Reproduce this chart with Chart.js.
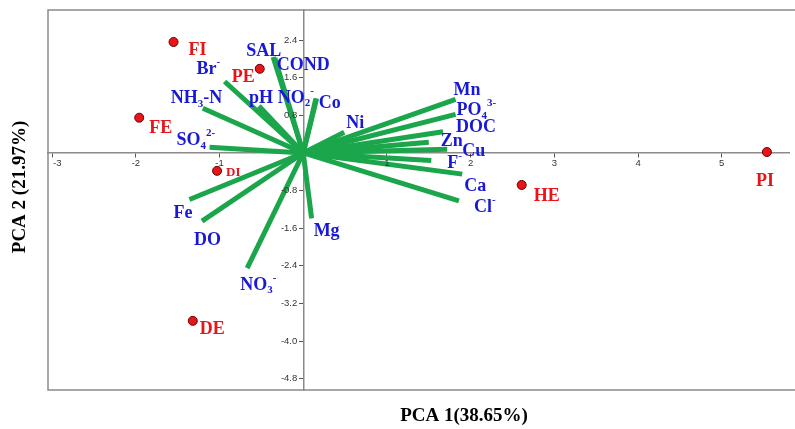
<!DOCTYPE html>
<html><head><meta charset="utf-8">
<script src="https://cdn.jsdelivr.net/npm/chart.js@4.4.1/dist/chart.umd.min.js"></script>
<style>html,body{margin:0;padding:0;background:#fff}#wrap{width:795px;height:429px}</style>
</head><body><div id="wrap"><canvas id="c" width="795" height="429"></canvas></div>
<script>
// ---- data ----
const sampleNames = ['FI','PE','FE','DI','DE','HE','PI'];
const sampleX = [-1.55,-0.52,-1.96,-1.03,-1.32,2.61,5.54];
const sampleY = [2.36,1.79,0.75,-0.38,-3.57,-0.68,0.02];

const varNames = ['SAL','COND','Br{^-}','NH{_3}-N','pH','NO{_2}{^-}','Co','Ni','SO{_4}{^2-}','Mn','PO{_4}{^3-}','DOC','Zn','Cu','F{^-}','Ca','Cl{^-}','Mg','Fe','DO','NO{_3}{^-}'];
const varX = [-0.36,-0.34,-0.94,-1.20,-0.53,0.15,0.16,0.49,-1.12,1.82,1.82,1.67,1.50,1.72,1.53,1.90,1.86,0.10,-1.36,-1.21,-0.67];
const varY = [2.04,2.02,1.52,0.95,1.00,1.15,1.16,0.44,0.12,1.14,0.82,0.45,0.23,0.08,-0.16,-0.45,-1.02,-1.39,-0.99,-1.45,-2.45];

const xTicks = [-3,-2,-1,1,2,3,4,5];
const yTicks = [2.4,1.6,0.8,-0.8,-1.6,-2.4,-3.2,-4.0,-4.8];
const xTitle = 'PCA 1(38.65%)';
const yTitle = 'PCA 2 (21.97%)';

// ---- layout / style (label offsets in px from their mark) ----
const varOffsets = [[-27,-6],[2,7.5],[-28,-12],[-32,-10],[-10,-8],[-38,-1],[2,4.5],[2,-9],[-33,-7],[-2,-9],[1,-4],[13,-4],[12,-1],[15,2],[16,3],[2,12],[15,6],[2,13],[-16,14],[-8,19],[-7,17]];
const sampleOffsets = [[15,8],[-28,8.5],[10,11],[9,2],[7,8],[12,11],[-11,29]];
const sampleFontSizes = [18,18,18,13,18,18,18];
const GREEN = 'rgb(28,166,76)';
const BLUE = 'rgb(24,24,214)';
const RED = 'rgb(232,20,24)';
const SERIF = '"Liberation Serif","Times New Roman",serif';
const SANS = '"Liberation Sans", Arial, sans-serif';

function drawRich(ctx, str, x, y, size, color) {
  const re = /\{([_^])([^}]*)\}|([^{]+)/g;
  let m, cx = x;
  ctx.fillStyle = color;
  ctx.textBaseline = 'middle';
  ctx.textAlign = 'left';
  while ((m = re.exec(str)) !== null) {
    if (m[3] !== undefined) {
      ctx.font = 'bold ' + size + 'px ' + SERIF;
      ctx.fillText(m[3], cx, y);
      cx += ctx.measureText(m[3]).width;
    } else {
      const s = Math.round(size * 0.62);
      ctx.font = 'bold ' + s + 'px ' + SERIF;
      const dy = m[1] === '_' ? size * 0.3 : -size * 0.38;
      ctx.fillText(m[2], cx, y + dy);
      cx += ctx.measureText(m[2]).width;
    }
  }
}

const framePlugin = {
  id: 'frame',
  beforeDatasetsDraw(chart) {
    const {ctx, chartArea: a} = chart;
    ctx.save();
    ctx.strokeStyle = '#8a8a8a';
    ctx.lineWidth = 1.5;
    ctx.beginPath();
    ctx.moveTo(chart.width, a.top);
    ctx.lineTo(a.left, a.top);
    ctx.lineTo(a.left, a.bottom);
    ctx.lineTo(chart.width, a.bottom);
    ctx.stroke();
    ctx.restore();
  }
};

const tickLabelPlugin = {
  id: 'tickLabels',
  afterDraw(chart) {
    const {ctx, chartArea: a, scales: {x, y}} = chart;
    ctx.save();
    ctx.fillStyle = '#333';
    ctx.font = '9.5px ' + SANS;
    ctx.textBaseline = 'middle';
    const y0 = y.getPixelForValue(0);
    const x0 = x.getPixelForValue(0);
    x.ticks.forEach(t => {
      const s = String(t.value);
      const w = ctx.measureText(s).width;
      let left = x.getPixelForValue(t.value) - w / 2;
      left = Math.max(left, a.left + 5);
      ctx.textAlign = 'left';
      ctx.fillText(s, left, y0 + 10);
    });
    y.ticks.forEach(t => {
      ctx.textAlign = 'right';
      ctx.fillText(Number(t.value).toFixed(1), x0 - 6, y.getPixelForValue(t.value));
    });
    ctx.restore();
  }
};

const labelPlugin = {
  id: 'labels',
  afterDatasetsDraw(chart) {
    const {ctx, scales: {x, y}} = chart;
    ctx.save();
    varNames.forEach((n, i) => {
      const px = x.getPixelForValue(varX[i]) + varOffsets[i][0];
      const py = y.getPixelForValue(varY[i]) + varOffsets[i][1];
      drawRich(ctx, n, px, py, 18, BLUE);
    });
    sampleNames.forEach((n, i) => {
      const px = x.getPixelForValue(sampleX[i]) + sampleOffsets[i][0];
      const py = y.getPixelForValue(sampleY[i]) + sampleOffsets[i][1];
      drawRich(ctx, n, px, py, sampleFontSizes[i], RED);
    });
    // axis titles
    ctx.fillStyle = '#000';
    ctx.font = 'bold 19px ' + SERIF;
    ctx.textAlign = 'center';
    ctx.textBaseline = 'middle';
    ctx.fillText(xTitle, 464, 416);
    ctx.translate(20, 187);
    ctx.rotate(-Math.PI / 2);
    ctx.fillText(yTitle, 0, 0);
    ctx.restore();
  }
};

const datasets = [];
datasets.push({
  type: 'scatter',
  data: sampleX.map((v, i) => ({x: v, y: sampleY[i]})),
  backgroundColor: RED,
  borderColor: '#6a0000',
  borderWidth: 1,
  pointRadius: 4.5,
  order: 0
});
varNames.forEach((n, i) => {
  datasets.push({
    type: 'line',
    data: [{x: 0, y: 0}, {x: varX[i], y: varY[i]}],
    borderColor: GREEN,
    borderWidth: 5,
    borderCapStyle: 'butt',
    pointRadius: 0,
    fill: false,
    order: 1
  });
});

new Chart(document.getElementById('c'), {
  data: {datasets},
  options: {
    responsive: false,
    animation: false,
    devicePixelRatio: 1,
    layout: {padding: {left: 48, top: 10, right: 0, bottom: 39}},
    plugins: {legend: {display: false}, tooltip: {enabled: false}},
    scales: {
      x: {
        type: 'linear',
        min: -3.05, max: 5.81,
        position: {y: 0},
        afterBuildTicks: s => { s.ticks = xTicks.map(v => ({value: v})); },
        ticks: {display: false},
        grid: {drawOnChartArea: false, drawTicks: true, tickLength: 4, color: '#555'},
        border: {color: '#8a8a8a', width: 1.5}
      },
      y: {
        type: 'linear',
        min: -5.04, max: 3.04,
        position: {x: 0},
        afterBuildTicks: s => { s.ticks = yTicks.map(v => ({value: v})); },
        ticks: {display: false},
        grid: {drawOnChartArea: false, drawTicks: true, tickLength: 4, color: '#555'},
        border: {color: '#8a8a8a', width: 1.5}
      }
    }
  },
  plugins: [framePlugin, tickLabelPlugin, labelPlugin]
});
</script>
</body></html>
